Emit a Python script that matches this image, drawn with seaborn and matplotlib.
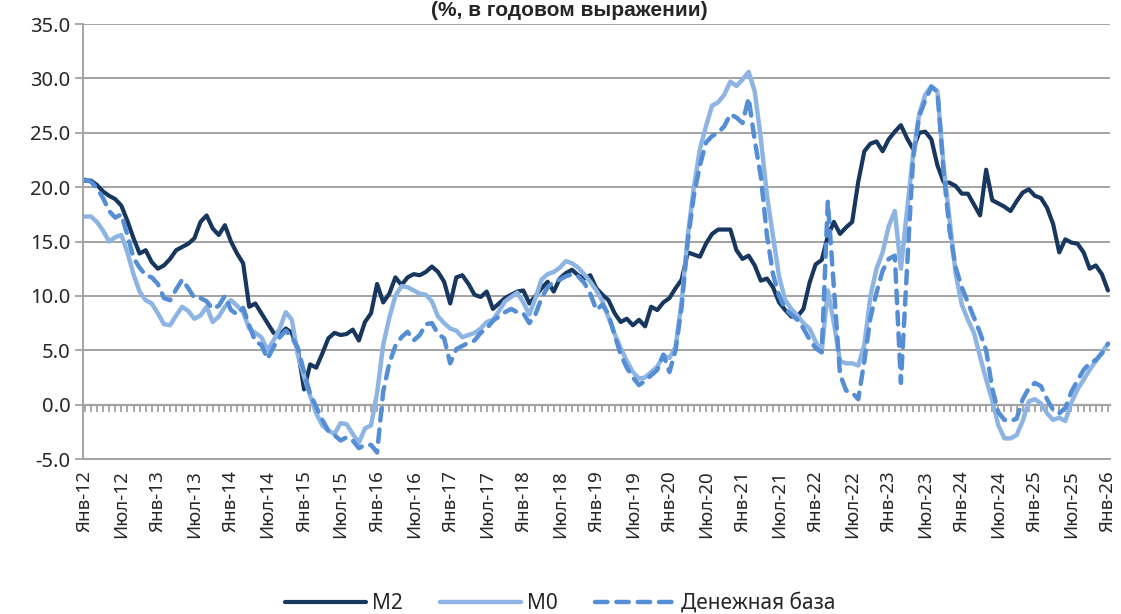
import numpy as np
import pandas as pd
import matplotlib
matplotlib.use('Agg')
import matplotlib.pyplot as plt
import seaborn as sns

# monthly data, Jan 2012 .. Jan 2026 (% y/y)
months = pd.date_range('2012-01-01', '2026-01-01', freq='MS')

m2 = [20.6, 20.6, 20.2, 19.6, 19.2, 18.9, 18.3, 16.9, 15.3, 13.9, 14.2, 13.1,
      12.5, 12.8, 13.4, 14.2, 14.5, 14.8, 15.3, 16.8, 17.4, 16.2, 15.6, 16.5,
      15.0, 13.9, 13.0, 9.0, 9.3, 8.4, 7.5, 6.6, 6.4, 7.0, 6.6, 5.0,
      1.4, 3.7, 3.4, 4.7, 6.1, 6.6, 6.4, 6.5, 6.9, 5.9, 7.6, 8.4,
      11.1, 9.4, 10.2, 11.7, 11.0, 11.7, 12.0, 11.9, 12.2, 12.7, 12.2, 11.3,
      9.3, 11.7, 11.9, 11.1, 10.1, 9.9, 10.4, 8.8, 9.3, 9.8, 10.1, 10.4,
      10.5, 9.3, 10.0, 10.7, 11.3, 10.4, 11.6, 12.1, 12.4, 11.9, 11.6, 11.9,
      10.7, 10.1, 9.6, 8.4, 7.6, 7.9, 7.3, 7.8, 7.2, 9.0, 8.7, 9.4,
      9.8, 10.7, 11.5, 14.0, 13.8, 13.6, 14.8, 15.7, 16.1, 16.1, 16.1, 14.2,
      13.4, 13.7, 12.8, 11.4, 11.6, 10.8, 9.4, 8.7, 8.1, 8.1, 8.8, 11.2,
      12.9, 13.3, 15.5, 16.8, 15.7, 16.3, 16.8, 20.5, 23.3, 24.0, 24.2, 23.3,
      24.4, 25.1, 25.7, 24.5, 23.5, 25.0, 25.1, 24.4, 22.0, 20.5, 20.4, 20.1,
      19.4, 19.4, 18.4, 17.4, 21.6, 18.8, 18.5, 18.2, 17.8, 18.7, 19.5, 19.8,
      19.2, 19.0, 18.1, 16.6, 14.0, 15.2, 14.9, 14.8, 14.0, 12.5, 12.8, 12.0,
      10.5]

m0 = [17.3, 17.3, 16.8, 16.0, 15.0, 15.4, 15.6, 14.0, 12.0, 10.4, 9.6, 9.3,
      8.4, 7.4, 7.3, 8.2, 9.0, 8.6, 7.9, 8.2, 9.0, 7.6, 8.1, 9.0,
      9.6, 9.1, 8.5, 7.0, 6.6, 6.2, 5.0, 5.9, 7.0, 8.5, 7.8, 4.5,
      2.6, 0.8, -0.8, -1.9, -2.4, -2.7, -1.7, -1.8, -2.7, -3.5, -2.2, -1.9,
      1.1, 5.5, 8.0, 10.0, 10.9, 10.8, 10.5, 10.2, 10.1, 9.5, 8.1, 7.5,
      7.0, 6.8, 6.2, 6.4, 6.6, 7.0, 7.6, 7.8, 8.6, 9.5, 9.9, 10.3,
      9.4, 8.3, 9.8, 11.5, 12.0, 12.2, 12.6, 13.2, 13.0, 12.6, 12.0, 11.3,
      10.5, 9.5, 8.0, 6.5, 5.2, 4.0, 3.0, 2.4, 2.5, 3.0, 3.5, 4.5,
      4.3, 5.3, 9.5, 15.5, 20.0, 23.5, 25.6, 27.5, 27.8, 28.5, 29.7, 29.3,
      29.9, 30.6, 28.8, 24.5, 19.3, 15.5, 11.8, 9.6, 8.8, 8.2, 7.5, 7.0,
      5.8, 4.9, 10.5, 7.5, 4.0, 3.8, 3.8, 3.6, 5.5, 10.0, 12.5, 14.0,
      16.4, 17.8, 12.5, 17.8, 23.0, 26.7, 28.5, 29.3, 28.8, 22.0, 17.0, 12.0,
      9.2, 7.8, 6.6, 4.4, 2.3, 0.4, -1.9, -3.1, -3.1, -2.8, -1.5, 0.3,
      0.5, 0.1, -0.8, -1.4, -1.2, -1.5, 0.2, 1.4, 2.3, 3.2, 4.0, 4.8,
      5.6]

base = [20.7, 20.5, 19.9, 19.0, 17.8, 17.2, 17.5, 15.6, 13.5, 12.6, 11.9, 11.7,
        11.1, 9.8, 9.6, 10.6, 11.5, 10.7, 9.8, 9.8, 9.5, 8.8, 9.1, 10.0,
        8.7, 8.3, 8.9, 7.3, 5.8, 5.5, 4.2, 5.3, 6.2, 6.8, 6.2, 5.2,
        3.0, 1.0, -0.2, -1.4, -2.4, -2.8, -3.3, -3.0, -3.3, -4.0, -3.7, -3.7,
        -4.4, 1.2, 3.8, 5.4, 6.2, 6.7, 5.9, 6.4, 7.4, 7.5, 6.5, 6.1,
        3.8, 5.1, 5.4, 5.7, 5.9, 6.6, 7.0, 7.7, 8.1, 8.5, 8.8, 8.5,
        8.4, 7.5, 8.3, 9.8, 10.8, 11.3, 11.5, 11.8, 12.0, 11.8, 11.2, 10.2,
        8.7, 9.2, 8.3, 6.4, 4.6, 3.4, 2.5, 1.8, 2.2, 2.7, 3.2, 4.6,
        3.0, 5.0, 9.0, 15.0, 19.2, 22.0, 24.1, 24.7, 25.0, 25.6, 26.7, 26.4,
        25.9, 28.2, 24.3, 21.0, 15.6, 12.0, 10.0, 8.8, 8.3, 7.8, 7.0, 6.0,
        5.2, 4.8, 18.7, 10.8, 2.8, 1.3, 1.1, 0.5, 4.0, 8.0, 10.3, 12.3,
        13.4, 13.7, 2.0, 12.5, 22.6, 26.5, 28.0, 29.2, 28.8, 21.5, 16.0, 12.6,
        10.8, 9.4, 8.0, 6.6, 5.0, 1.5, -0.7, -1.4, -1.5, -1.3, 0.5, 1.5,
        2.0, 1.7, 0.5, -0.5, -0.8, -0.3, 1.2, 2.2, 3.2, 3.8, 4.1, 4.7,
        5.6]

tick_labels = ['Янв-12', 'Июл-12', 'Янв-13', 'Июл-13', 'Янв-14', 'Июл-14',
               'Янв-15', 'Июл-15', 'Янв-16', 'Июл-16', 'Янв-17', 'Июл-17',
               'Янв-18', 'Июл-18', 'Янв-19', 'Июл-19', 'Янв-20', 'Июл-20',
               'Янв-21', 'Июл-21', 'Янв-22', 'Июл-22', 'Янв-23', 'Июл-23',
               'Янв-24', 'Июл-24', 'Янв-25', 'Июл-25', 'Янв-26']

sns.set_theme(style='white')
plt.rcParams['font.family'] = ['Noto Sans', 'DejaVu Sans']

df = pd.DataFrame({'n': np.arange(len(months)), 'M2': m2, 'M0': m0,
                   'Денежная база': base})

grid_c = '#a3a3a3'
fig = plt.figure(figsize=(11.21, 6.14), dpi=100)
ax = fig.add_axes([0.074, 0.2524, 0.916, 0.7085])

# zero axis with monthly tick marks (like Excel's crossing axis)
sec = ax.secondary_xaxis(5 / 40)
sec.set_xticks(df['n'])
sec.tick_params(length=5, width=1.3, color=grid_c, labelbottom=False, direction='out')
sec.spines['bottom'].set_color(grid_c)
sec.spines['bottom'].set_linewidth(1.6)

sns.lineplot(data=df, x='n', y='M2', ax=ax, color='#17375E', lw=3.0,
             label='M2', solid_capstyle='round')
sns.lineplot(data=df, x='n', y='M0', ax=ax, color='#8DB4E2', lw=3.2,
             label='M0', solid_capstyle='round')
sns.lineplot(data=df, x='n', y='Денежная база', ax=ax, color='#558ED5', lw=3.2,
             label='Денежная база', linestyle=(0, (2.8, 2.0)), dash_capstyle='round')

ax.set_xlim(-0.3, 168.3)
ax.set_ylim(-5, 35)
ax.set_yticks(np.arange(-5, 36, 5))
ax.set_yticklabels([f'{v:.1f}' for v in np.arange(-5, 36, 5)])
ax.set_xticks(np.arange(0, 169, 6))
ax.set_xticklabels(tick_labels, rotation=90)
ax.set_xlabel('')
ax.set_ylabel('')

ax.yaxis.grid(True, color=grid_c, lw=1.4)
ax.xaxis.grid(False)
ax.tick_params(axis='y', length=6, width=1.3, color=grid_c, labelsize=14.5, pad=3, left=True)
ax.tick_params(axis='x', length=0, labelsize=13.5, pad=8)
for s in ['top', 'right']:
    ax.spines[s].set_visible(False)
for s in ['left', 'bottom']:
    ax.spines[s].set_color(grid_c)
    ax.spines[s].set_linewidth(1.4)

handles, labels = ax.get_legend_handles_labels()
ax.get_legend().remove()
fig.legend(handles, labels, loc='center', bbox_to_anchor=(0.5, 0.017), ncol=3,
           frameon=False, fontsize=15, handlelength=3.9, handletextpad=0.25,
           columnspacing=1.8)

# title sits tight against the top edge, as in the source image
fig.text(0.508, 0.998, '(%, в годовом выражении)', ha='center', va='top',
         fontsize=15, fontweight='bold', family=['Liberation Sans', 'DejaVu Sans'])

fig.savefig('out.png', dpi=100)
